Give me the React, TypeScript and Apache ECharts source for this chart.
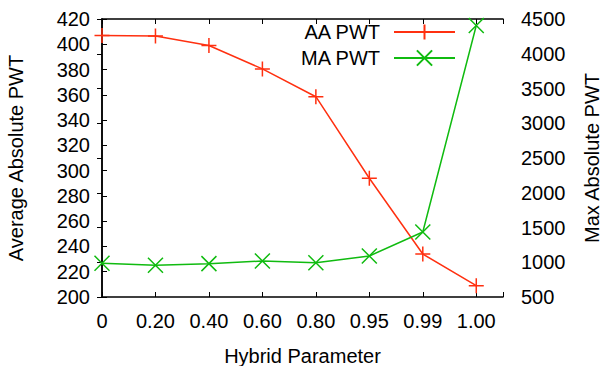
import React, { useEffect, useRef } from "react";
import * as echarts from "echarts";

const categories = ["0", "0.20", "0.40", "0.60", "0.80", "0.95", "0.99", "1.00"];
const aaPwt = [407, 406.5, 399, 380.5, 358.5, 294, 234, 209];
const maPwt = [985, 956, 980, 1018, 994, 1090, 1436, 4407];
const leftTicks = { min: 200, max: 420, interval: 20 };
const rightTicks = { min: 500, max: 4500, interval: 500 };

const FONT = "Liberation Sans";
const RED = "#ff3010";
const GREEN = "#10bb10";
const PLUS = "path://M0,5L10,5M5,0L5,10";
const CROSS = "path://M0,0L10,10M10,0L0,10";

export default function App() {
  const ref = useRef<HTMLDivElement>(null);
  useEffect(() => {
    if (!ref.current) return;
    const chart = echarts.init(ref.current, null, { renderer: "svg" });
    const axisLine = { show: true, lineStyle: { color: "#000", width: 1.5 } };
    const axisTick = { show: true, inside: true, length: 5, lineStyle: { color: "#000", width: 1 } };
    const labelStyle = { fontFamily: FONT, fontSize: 20, color: "#000" };
    const xCommon = {
      type: "value" as const,
      min: 0,
      max: categories.length - 0.5,
      interval: 1,
      splitLine: { show: false },
      axisLine,
      axisTick,
    };
    chart.setOption({
      animation: false,
      backgroundColor: "#fff",
      textStyle: { fontFamily: FONT },
      grid: { left: 102, right: 100, top: 19, bottom: 69, outerBoundsMode: "none", containLabel: false },
      legend: {
        orient: "vertical",
        right: 147,
        top: 22,
        padding: 0,
        align: "right",
        itemWidth: 61,
        itemHeight: 19,
        itemGap: 6,
        textStyle: { ...labelStyle, lineHeight: 19, padding: [0, 9, 0, 0] },
        data: ["AA PWT", "MA PWT"],
      },
      xAxis: [
        {
          ...xCommon,
          position: "bottom",
          name: "Hybrid Parameter",
          nameLocation: "middle",
          nameGap: 49,
          nameTextStyle: labelStyle,
          axisLabel: {
            ...labelStyle,
            margin: 14,
            formatter: (v: number) => (Number.isInteger(v) && categories[v] !== undefined ? categories[v] : ""),
          },
        },
        {
          ...xCommon,
          position: "top",
          axisLabel: { show: false },
        },
      ],
      yAxis: [
        {
          type: "value",
          position: "left",
          ...leftTicks,
          name: "Average Absolute PWT",
          nameLocation: "middle",
          nameGap: 76,
          nameTextStyle: labelStyle,
          splitLine: { show: false },
          axisLine,
          axisTick,
          axisLabel: { ...labelStyle, margin: 12, formatter: (v: number) => String(v) },
        },
        {
          type: "value",
          position: "right",
          ...rightTicks,
          name: "Max Absolute PWT",
          nameLocation: "middle",
          nameGap: 79,
          nameTextStyle: labelStyle,
          splitLine: { show: false },
          axisLine,
          axisTick,
          axisLabel: { ...labelStyle, margin: 18, formatter: (v: number) => String(v) },
        },
      ],
      series: [
        {
          name: "AA PWT",
          type: "line",
          xAxisIndex: 0,
          yAxisIndex: 0,
          data: aaPwt.map((v, i) => [i, v]),
          color: RED,
          symbol: PLUS,
          symbolSize: 15,
          showAllSymbol: true,
          lineStyle: { color: RED, width: 1.5 },
          itemStyle: { color: RED, borderColor: RED, borderWidth: 1.5 },
        },
        {
          name: "MA PWT",
          type: "line",
          xAxisIndex: 0,
          yAxisIndex: 1,
          data: maPwt.map((v, i) => [i, v]),
          color: GREEN,
          symbol: CROSS,
          symbolSize: 15,
          showAllSymbol: true,
          lineStyle: { color: GREEN, width: 1.5 },
          itemStyle: { color: GREEN, borderColor: GREEN, borderWidth: 1.5 },
        },
      ],
    });
    return () => chart.dispose();
  }, []);
  return <div ref={ref} style={{ width: 603, height: 366, position: "absolute", left: 0, top: 0 }} />;
}
